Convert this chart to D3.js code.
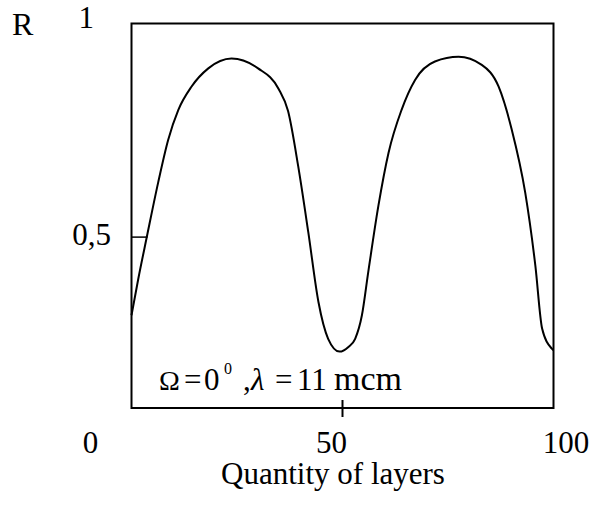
<!DOCTYPE html>
<html>
<head>
<meta charset="utf-8">
<script src="https://cdn.jsdelivr.net/npm/d3@7"></script>
<style>
  body { margin: 0; background: #fff; }
  svg { display: block; }
  text { font-family: 'Liberation Serif', 'Times New Roman', serif; fill: #000; }
</style>
</head>
<body>
<svg width="596" height="509"></svg>
<script>
// データ (Quantity of layers, R)
var layers = [0, 1.6, 3.6, 6.3, 8.7, 11.1, 14.2, 18.2, 23.7, 30.0, 34.8, 37.1, 39.5, 41.9, 44.3, 46.6, 49.3,
              51.4, 53.0, 54.6, 56.1, 58.5, 60.9, 64.0, 67.2, 71.9, 77.5, 83.0, 87.0, 90.1, 93.3, 95.7, 97.3, 99.6, 100];
var reflect = [0.317, 0.402, 0.499, 0.627, 0.728, 0.798, 0.852, 0.895, 0.918, 0.895, 0.848, 0.795, 0.666, 0.511, 0.348, 0.262, 0.232,
               0.243, 0.262, 0.317, 0.418, 0.573, 0.697, 0.798, 0.868, 0.911, 0.922, 0.903, 0.852, 0.752, 0.604, 0.433, 0.286, 0.239, 0.235];
var xTicks = [0, 50, 100];
var xTickLabels = ['0', '50', '100'];
var yTicks = [0.5];
var yTickLabels = ['0,5'];

var svg = d3.select('svg');
var mLeft = 131.5, mRight = 553.5, mTop = 23.5, mBottom = 408;
var fs = '31px';

var xScale = d3.scaleLinear().domain([0, 100]).range([mLeft, mRight]);
var yScale = d3.scaleLinear().domain([0.1, 1]).range([mBottom, mTop]);
// ラベル位置 (元図ではずれている)
var xLabelScale = d3.scaleLinear().domain([0, 50, 100]).range([90.5, 331.5, 566]);

// 枠
svg.append('rect')
    .attr('x', mLeft)
    .attr('y', mTop)
    .attr('width', mRight - mLeft)
    .attr('height', mBottom - mTop)
    .attr('fill', 'none')
    .attr('stroke', '#000')
    .attr('stroke-width', 2);

// 目盛り
svg.selectAll('line.xtick')
    .data(xTicks.filter(function(d) { return d > 0 && d < 100; }))
    .enter()
    .append('line')
    .attr('class', 'xtick')
    .attr('x1', function(d) { return xScale(d); })
    .attr('x2', function(d) { return xScale(d); })
    .attr('y1', mBottom - 8)
    .attr('y2', mBottom + 9)
    .attr('stroke', '#000')
    .attr('stroke-width', 2);

svg.selectAll('line.ytick')
    .data(yTicks)
    .enter()
    .append('line')
    .attr('class', 'ytick')
    .attr('x1', mLeft)
    .attr('x2', mLeft + 16)
    .attr('y1', function(d) { return yScale(d); })
    .attr('y2', function(d) { return yScale(d); })
    .attr('stroke', '#000')
    .attr('stroke-width', 1.5);

// 目盛りラベル
svg.selectAll('text.xlab')
    .data(xTicks)
    .enter()
    .append('text')
    .attr('class', 'xlab')
    .attr('x', function(d) { return xLabelScale(d); })
    .attr('y', 453)
    .attr('text-anchor', 'middle')
    .style('font-size', fs)
    .text(function(d, i) { return xTickLabels[i]; });

svg.selectAll('text.ylab')
    .data(yTicks)
    .enter()
    .append('text')
    .attr('class', 'ylab')
    .attr('x', 111)
    .attr('y', function(d) { return yScale(d) + 8; })
    .attr('text-anchor', 'end')
    .style('font-size', fs)
    .text(function(d, i) { return yTickLabels[i]; });

svg.append('text')
    .attr('x', 94)
    .attr('y', 28)
    .attr('text-anchor', 'end')
    .style('font-size', fs)
    .text('1');

svg.append('text')
    .attr('x', 12)
    .attr('y', 35)
    .style('font-size', '32px')
    .text('R');

svg.append('text')
    .attr('x', 333)
    .attr('y', 484)
    .attr('text-anchor', 'middle')
    .style('font-size', fs)
    .text('Quantity of layers');

// 注記
var note = svg.append('text')
    .attr('y', 390)
    .style('font-size', fs);
note.append('tspan').attr('x', 159).style('font-size', '28px').text('\u03A9');
note.append('tspan').attr('x', 184).text('=');
note.append('tspan').attr('x', 204).text('0');
note.append('tspan').attr('x', 224).attr('y', 374).style('font-size', '16px').text('0');
note.append('tspan').attr('x', 243).attr('y', 390).text(',');
note.append('tspan').attr('x', 251).style('font-style', 'italic').text('\u03BB');
note.append('tspan').attr('x', 275).text('=');
note.append('tspan').attr('x', 297).text('11');
note.append('tspan').attr('x', 334).style('font-size', '34px').text('mcm');

// 曲線
var line = d3.line()
    .x(function(d, i) { return xScale(layers[i]); })
    .y(function(d) { return yScale(d); })
    .curve(d3.curveMonotoneX);

svg.append('path')
    .datum(reflect)
    .attr('d', line)
    .attr('fill', 'none')
    .attr('stroke', '#000')
    .attr('stroke-width', 2);
</script>
</body>
</html>
